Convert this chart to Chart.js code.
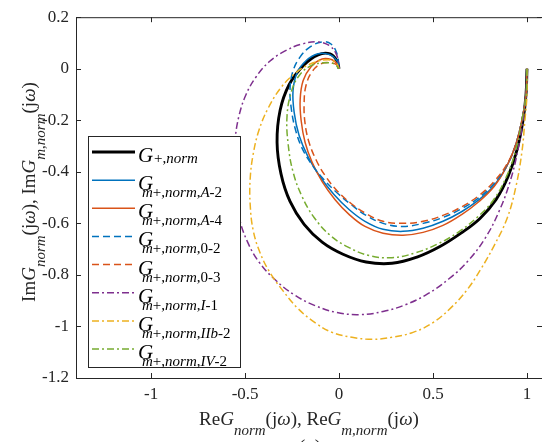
<!DOCTYPE html>
<html><head><meta charset="utf-8">
<script src="https://cdn.jsdelivr.net/npm/chart.js@4/dist/chart.umd.min.js"></script>
<style>html,body{margin:0;padding:0;background:#fff;}#wrap{width:542px;height:442px;position:relative;overflow:hidden}</style>
</head><body><div id="wrap"><canvas id="c" width="542" height="442"></canvas></div>
<script>
// ---- data ----
const xTickValues = [-1, -0.5, 0, 0.5, 1];
const yTickValues = [0.2, 0, -0.2, -0.4, -0.6, -0.8, -1, -1.2];

const gPlusRe = [1.000, 0.995, 0.979, 0.947, 0.899, 0.835, 0.750, 0.649, 0.537, 0.415, 0.282, 0.144, 0.021, -0.090, -0.186, -0.261, -0.309, -0.330, -0.314, -0.266, -0.191, -0.112, -0.048, -0.011, 0];
const gPlusIm = [0, -0.100, -0.200, -0.315, -0.419, -0.508, -0.581, -0.638, -0.690, -0.731, -0.755, -0.750, -0.720, -0.673, -0.604, -0.515, -0.408, -0.285, -0.162, -0.062, 0.012, 0.054, 0.058, 0.031, 0];

const a2Re = [1.000, 0.995, 0.973, 0.936, 0.888, 0.824, 0.745, 0.654, 0.553, 0.447, 0.340, 0.234, 0.138, 0.053, -0.027, -0.101, -0.165, -0.213, -0.239, -0.245, -0.223, -0.176, -0.112, -0.048, -0.011, 0];
const a2Im = [0, -0.100, -0.200, -0.304, -0.385, -0.454, -0.508, -0.554, -0.592, -0.619, -0.631, -0.623, -0.592, -0.546, -0.488, -0.419, -0.342, -0.258, -0.169, -0.085, -0.015, 0.031, 0.058, 0.054, 0.031, 0];

const a4Re = [1.000, 0.995, 0.973, 0.936, 0.888, 0.824, 0.745, 0.654, 0.553, 0.447, 0.340, 0.234, 0.138, 0.053, -0.021, -0.090, -0.144, -0.181, -0.202, -0.207, -0.191, -0.149, -0.090, -0.037, -0.011, 0];
const a4Im = [0, -0.100, -0.200, -0.304, -0.385, -0.458, -0.515, -0.565, -0.608, -0.635, -0.646, -0.638, -0.612, -0.565, -0.508, -0.438, -0.362, -0.285, -0.200, -0.119, -0.046, 0.008, 0.038, 0.035, 0.019, 0];

const o2Re = [1.000, 0.995, 0.973, 0.936, 0.888, 0.824, 0.745, 0.654, 0.553, 0.447, 0.340, 0.234, 0.144, 0.064, -0.011, -0.080, -0.144, -0.197, -0.234, -0.255, -0.261, -0.245, -0.207, -0.154, -0.090, -0.043, -0.011, 0];
const o2Im = [0, -0.100, -0.200, -0.304, -0.381, -0.446, -0.500, -0.542, -0.577, -0.600, -0.612, -0.600, -0.569, -0.527, -0.481, -0.431, -0.373, -0.308, -0.231, -0.150, -0.077, -0.008, 0.046, 0.085, 0.104, 0.096, 0.058, 0];

const o3Re = [1.000, 0.995, 0.973, 0.936, 0.888, 0.824, 0.745, 0.654, 0.553, 0.447, 0.340, 0.234, 0.144, 0.064, -0.011, -0.074, -0.122, -0.160, -0.181, -0.186, -0.176, -0.144, -0.096, -0.043, -0.011, 0];
const o3Im = [0, -0.100, -0.200, -0.304, -0.377, -0.438, -0.492, -0.535, -0.569, -0.592, -0.600, -0.592, -0.562, -0.523, -0.473, -0.415, -0.354, -0.285, -0.212, -0.135, -0.065, -0.012, 0.019, 0.023, 0.015, 0];

const i1Re = [1.000, 0.995, 0.979, 0.952, 0.910, 0.851, 0.777, 0.686, 0.585, 0.473, 0.356, 0.234, 0.112, -0.011, -0.128, -0.239, -0.340, -0.426, -0.489, -0.532, -0.553, -0.559, -0.553, -0.532, -0.495, -0.441, -0.372, -0.287, -0.197, -0.112, -0.048, -0.011, 0];
const i1Im = [0, -0.100, -0.200, -0.315, -0.438, -0.554, -0.658, -0.746, -0.815, -0.873, -0.915, -0.942, -0.954, -0.946, -0.919, -0.877, -0.819, -0.750, -0.669, -0.577, -0.477, -0.373, -0.273, -0.181, -0.100, -0.031, 0.027, 0.069, 0.096, 0.104, 0.088, 0.050, 0];

const iib2Re = [1.000, 1.000, 0.989, 0.973, 0.941, 0.894, 0.824, 0.755, 0.681, 0.596, 0.500, 0.394, 0.282, 0.176, 0.069, -0.037, -0.128, -0.218, -0.298, -0.367, -0.420, -0.457, -0.473, -0.473, -0.457, -0.426, -0.378, -0.309, -0.229, -0.138, -0.059, -0.016, 0];
const iib2Im = [0, -0.100, -0.200, -0.323, -0.458, -0.581, -0.688, -0.777, -0.858, -0.927, -0.985, -1.023, -1.042, -1.050, -1.042, -1.023, -0.985, -0.931, -0.862, -0.792, -0.715, -0.627, -0.527, -0.427, -0.331, -0.238, -0.154, -0.073, -0.015, 0.023, 0.035, 0.023, 0];

const iv2Re = [1.000, 0.995, 0.973, 0.941, 0.888, 0.819, 0.734, 0.633, 0.521, 0.404, 0.282, 0.160, 0.048, -0.048, -0.133, -0.197, -0.245, -0.271, -0.277, -0.255, -0.213, -0.149, -0.080, -0.027, 0];
const iv2Im = [0, -0.100, -0.200, -0.315, -0.423, -0.512, -0.577, -0.635, -0.681, -0.715, -0.733, -0.725, -0.692, -0.646, -0.577, -0.496, -0.400, -0.292, -0.185, -0.092, -0.027, 0.012, 0.023, 0.019, 0];

// ---- styling ----
const SERIF = '"Liberation Serif","Times New Roman",serif';
const C_BLUE = '#0072BD', C_ORANGE = '#D95319', C_YELLOW = '#EDB120', C_PURPLE = '#7E2F8E', C_GREEN = '#77AC30';
const DASH = [7, 4], DASHDOT = [7, 3, 2, 3];

function pts(re, im) { return re.map((r, i) => ({ x: r, y: im[i] })); }
function ds(label, re, im, color, width, dash, order) {
  return { label, data: pts(re, im), borderColor: color, borderWidth: width, borderDash: dash,
    showLine: true, pointRadius: 0, tension: 0.4, fill: false, order };
}

const datasets = [
  ds('G+,norm', gPlusRe, gPlusIm, '#000000', 2.9, [], 8),
  ds('A-2', a2Re, a2Im, C_BLUE, 1.5, [], 7),
  ds('A-4', a4Re, a4Im, C_ORANGE, 1.5, [], 6),
  ds('0-2', o2Re, o2Im, C_BLUE, 1.5, DASH, 5),
  ds('0-3', o3Re, o3Im, C_ORANGE, 1.5, DASH, 4),
  ds('I-1', i1Re, i1Im, C_PURPLE, 1.5, DASHDOT, 3),
  ds('IIb-2', iib2Re, iib2Im, C_YELLOW, 1.5, DASHDOT, 2),
  ds('IV-2', iv2Re, iv2Im, C_GREEN, 1.5, DASHDOT, 1)
];

function fnt(sz, it) { return (it ? 'italic ' : '') + sz + 'px ' + SERIF; }
function richWidth(ctx, segs) { let w = 0; for (const s of segs) { ctx.font = fnt(s.sz, s.it); w += ctx.measureText(s.t).width; } return w; }
function drawRich(ctx, x, y, segs) {
  for (const s of segs) { ctx.font = fnt(s.sz, s.it); ctx.fillText(s.t, x, y + (s.dy || 0)); x += ctx.measureText(s.t).width; }
}
const TM = 19, TS = 15, TD = 10;
const N = t => ({ t, sz: TM, it: false }), I = t => ({ t, sz: TM, it: true });
const SN = t => ({ t, sz: TS, it: false, dy: TD }), SI = t => ({ t, sz: TS, it: true, dy: TD });

const LS = 15;
const ln = t => ({ t, sz: LS, it: false }), li = t => ({ t, sz: LS, it: true });
const legendRows = [
  { color: '#000', w: 2.9, dash: [], sub: [ln('+,'), li('norm')], first: true },
  { color: C_BLUE, w: 1.5, dash: [], sub: [li('m'), ln('+,'), li('norm'), ln(','), li('A'), ln('-2')] },
  { color: C_ORANGE, w: 1.5, dash: [], sub: [li('m'), ln('+,'), li('norm'), ln(','), li('A'), ln('-4')] },
  { color: C_BLUE, w: 1.5, dash: DASH, sub: [li('m'), ln('+,'), li('norm'), ln(',0-2')] },
  { color: C_ORANGE, w: 1.5, dash: DASH, sub: [li('m'), ln('+,'), li('norm'), ln(',0-3')] },
  { color: C_PURPLE, w: 1.5, dash: DASHDOT, sub: [li('m'), ln('+,'), li('norm'), ln(','), li('I'), ln('-1')] },
  { color: C_YELLOW, w: 1.5, dash: DASHDOT, sub: [li('m'), ln('+,'), li('norm'), ln(','), li('IIb'), ln('-2')] },
  { color: C_GREEN, w: 1.5, dash: DASHDOT, sub: [li('m'), ln('+,'), li('norm'), ln(','), li('IV'), ln('-2')] }
];

const decor = {
  id: 'decor',
  afterDatasetsDraw(chart) {
    const ctx = chart.ctx, a = chart.chartArea, xs = chart.scales.x, ys = chart.scales.y;
    ctx.save();
    ctx.strokeStyle = '#262626'; ctx.lineWidth = 1; ctx.setLineDash([]);
    ctx.beginPath();
    ctx.moveTo(a.left + 0.5, a.top + 0.5); ctx.lineTo(a.right - 0.5, a.top + 0.5);
    ctx.moveTo(a.left + 0.5, a.top + 0.5); ctx.lineTo(a.left + 0.5, a.bottom + 0.5);
    ctx.moveTo(a.left + 0.5, a.bottom + 0.5); ctx.lineTo(a.right, a.bottom + 0.5);
    ctx.stroke();
    ctx.beginPath();
    for (const v of xTickValues) {
      const px = Math.round(xs.getPixelForValue(v)) + 0.5;
      ctx.moveTo(px, a.bottom); ctx.lineTo(px, a.bottom - 5);
      ctx.moveTo(px, a.top); ctx.lineTo(px, a.top + 5);
    }
    for (const v of yTickValues) {
      const py = Math.round(ys.getPixelForValue(v)) + 0.5;
      ctx.moveTo(a.left, py); ctx.lineTo(a.left + 5, py);
      ctx.moveTo(a.right, py); ctx.lineTo(a.right - 5, py);
    }
    ctx.stroke();

    // legend
    const bx = 88.5, by = 136.5, bw = 152, bh = 231;
    ctx.fillStyle = '#fff'; ctx.fillRect(bx, by, bw, bh);
    ctx.strokeStyle = '#262626'; ctx.strokeRect(bx, by, bw, bh);
    const rowY0 = 152, rowStep = 28.15;
    legendRows.forEach((r, i) => {
      const y = rowY0 + i * rowStep;
      ctx.strokeStyle = r.color; ctx.lineWidth = r.w; ctx.setLineDash(r.dash);
      ctx.beginPath(); ctx.moveTo(92, y); ctx.lineTo(135, y); ctx.stroke();
      ctx.setLineDash([]);
      ctx.fillStyle = '#000';
      ctx.font = fnt(21, true);
      ctx.fillText('G', 138, y + 10);
      if (r.first) drawRich(ctx, 154, y + 11, r.sub);
      else drawRich(ctx, 142, y + 17, r.sub);
    });

    // axis titles
    ctx.fillStyle = '#262626';
    const xt = [N('Re'), I('G'), SI('norm'), N('(j'), I('\u03c9'), N('), Re'), I('G'), SI('m'), SN(','), SI('norm'), N('(j'), I('\u03c9'), N(')')];
    const xw = richWidth(ctx, xt);
    drawRich(ctx, 309 - xw / 2, 425, xt);
    const yt = [N('Im'), I('G'), SI('norm'), N('(j'), I('\u03c9'), N('), Im'), I('G'), SI('m'), SN(','), SI('norm'), N('(j'), I('\u03c9'), N(')')];
    const yw = richWidth(ctx, yt);
    ctx.save(); ctx.translate(35, 192); ctx.rotate(-Math.PI / 2);
    drawRich(ctx, -yw / 2, 0, yt);
    ctx.restore();
    // caption partially visible at bottom
    ctx.font = fnt(21, false); ctx.textAlign = 'center';
    ctx.fillText('(a)', 310, 454);
    ctx.restore();
  }
};

const fmt = v => String(Math.round(v * 10) / 10);

new Chart(document.getElementById('c'), {
  type: 'scatter',
  data: { datasets },
  options: {
    responsive: false, animation: false, devicePixelRatio: 1,
    layout: { padding: { top: 15, left: 0, right: 0, bottom: 0 } },
    plugins: { legend: { display: false }, tooltip: { enabled: false } },
    scales: {
      x: {
        type: 'linear', min: -1.4, max: 1.08,
        afterFit(s) { s.height = 64; },
        afterBuildTicks(s) { s.ticks = xTickValues.map(v => ({ value: v })); },
        grid: { display: false, drawTicks: false }, border: { display: false },
        ticks: { padding: 6, color: '#262626', font: { family: SERIF, size: 17 }, callback: fmt, maxRotation: 0, autoSkip: false }
      },
      y: {
        type: 'linear', min: -1.2, max: 0.2,
        afterFit(s) { s.width = 76; },
        afterBuildTicks(s) { s.ticks = yTickValues.map(v => ({ value: v })); },
        grid: { display: false, drawTicks: false }, border: { display: false },
        ticks: { padding: 7, color: '#262626', font: { family: SERIF, size: 17 }, callback: fmt, autoSkip: false }
      }
    }
  },
  plugins: [decor]
});
</script>
</body></html>
